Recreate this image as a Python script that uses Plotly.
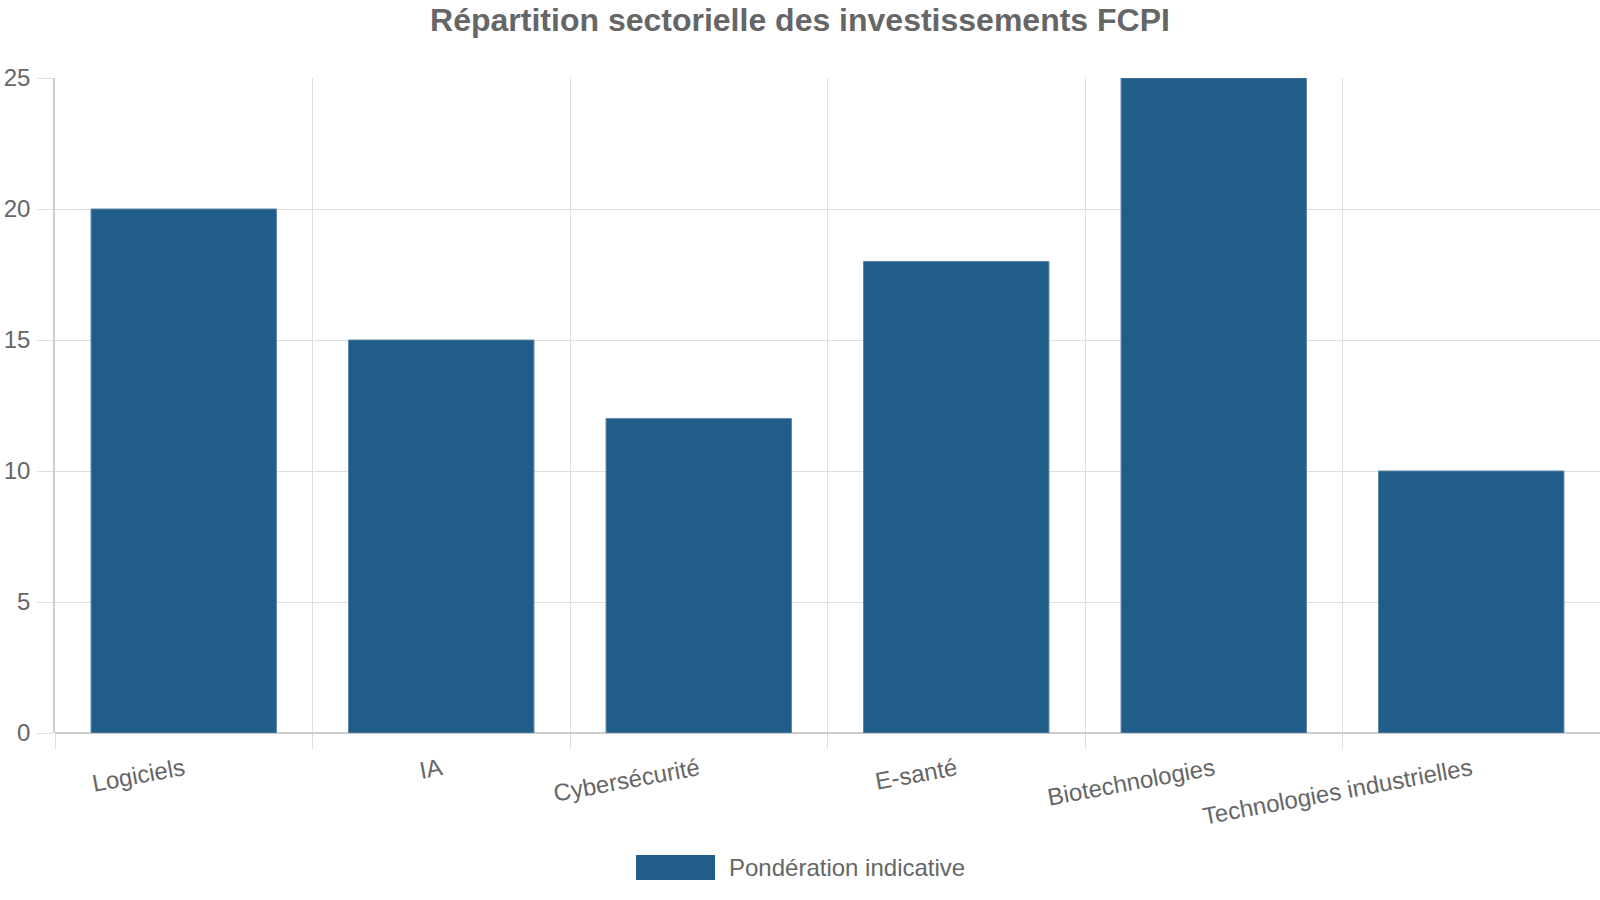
import plotly.graph_objects as go

categories = ["Logiciels", "IA", "Cybersécurité", "E-santé", "Biotechnologies", "Technologies industrielles"]
values = [20, 15, 12, 18, 25, 10]
series_name = "Pondération indicative"
title_text = "Répartition sectorielle des investissements FCPI"
y_ticks = [0, 5, 10, 15, 20, 25]

W, H = 1600, 900
L, R, T, B = 55, 0, 78, 167
plot_w = W - L - R
plot_h = H - T - B

def px_x(x):
    return (x - L) / plot_w

def px_y(y):
    return (H - B - y) / plot_h

bar_color = "#205d88"
text_color = "#666666"
grid_color = "#dedede"
font_family = "Liberation Sans, Arial, sans-serif"

fig = go.Figure()
fig.add_trace(go.Bar(
    x=categories, y=values, name=series_name,
    marker=dict(color=bar_color, line=dict(color="#5a86a6", width=1)),
    showlegend=False,
))

fig.update_layout(
    width=W, height=H,
    margin=dict(l=L, r=R, t=T, b=B, pad=0),
    paper_bgcolor="white", plot_bgcolor="white",
    bargap=0.28,
    font=dict(family=font_family, size=24, color=text_color),
    title=dict(text="<b>" + title_text + "</b>", x=0.5, xref="container", xanchor="center",
               y=1 - 20 / H, yref="container", yanchor="middle",
               font=dict(size=32, color=text_color, family=font_family)),
    xaxis=dict(
        type="category", tickson="boundaries", showgrid=True, gridcolor=grid_color, gridwidth=1,
        ticks="outside", ticklen=15, tickcolor=grid_color, tickwidth=1,
        tickangle=-10.5, tickfont=dict(size=24, color=text_color), ticklabelstandoff=17,
        showline=False, zeroline=False, fixedrange=True,
    ),
    yaxis=dict(
        range=[0, 25], tickvals=y_ticks, showgrid=True, gridcolor=grid_color, gridwidth=1,
        ticks="outside", ticklen=16, tickcolor=grid_color, tickwidth=1,
        tickfont=dict(size=24, color=text_color), ticklabelstandoff=2,
        zeroline=True, zerolinecolor="#cccccc", zerolinewidth=2,
        showline=True, linecolor="#cccccc", linewidth=1.5,
    ),
)

# Legend drawn as a patch + label
fig.add_shape(type="rect", xref="paper", yref="paper",
              x0=px_x(636), x1=px_x(715), y0=px_y(880), y1=px_y(855),
              fillcolor=bar_color, line=dict(width=0))
fig.add_annotation(text=series_name, xref="paper", yref="paper",
                   x=px_x(727), y=px_y(867), xanchor="left", yanchor="middle",
                   showarrow=False, font=dict(size=24, color=text_color, family=font_family))

fig.write_html("out.html")
